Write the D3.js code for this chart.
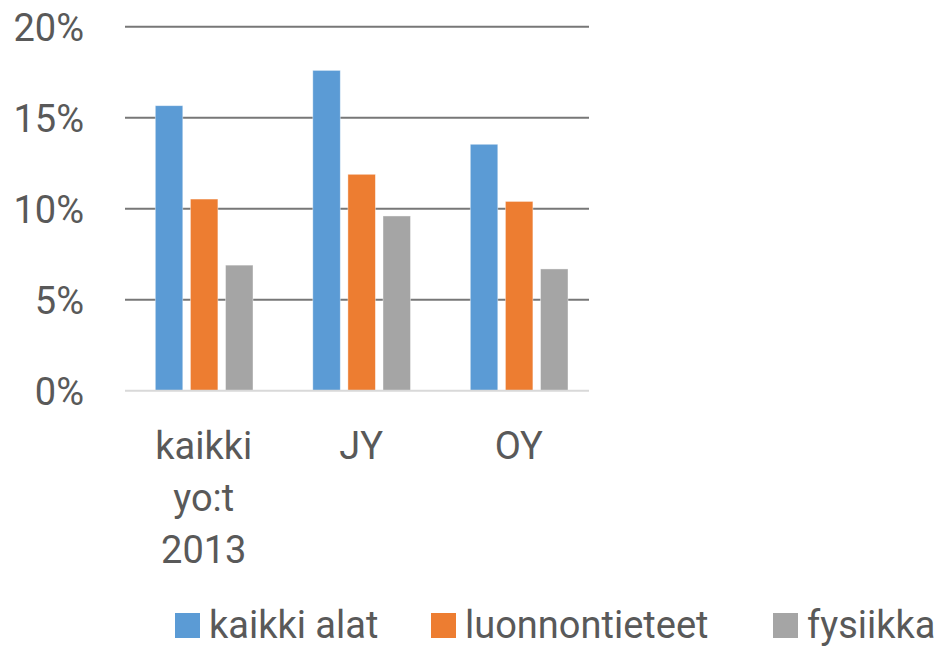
<!DOCTYPE html>
<html><head><meta charset="utf-8">
<script src="https://cdn.jsdelivr.net/npm/d3@7"></script>
<style>body{margin:0;background:#fff}svg{display:block}text{font-family:Roboto,"Open Sans",sans-serif;fill:#595959}</style>
</head><body><svg id="c" width="937" height="647"></svg>
<script>
const categories = [["kaikki","yo:t","2013"],["JY"],["OY"]];
const categoryKeys = ["kaikki yo:t 2013","JY","OY"];
const seriesNames = ["kaikki alat","luonnontieteet","fysiikka"];
const seriesColors = ["#5B9BD5","#ED7D31","#A5A5A5"];
const kaikkiAlat = [0.1566, 0.176, 0.1354];
const luonnontieteet = [0.1053, 0.1189, 0.104];
const fysiikka = [0.069, 0.096, 0.0669];
const yTicks = [0, 0.05, 0.10, 0.15, 0.20];

(function(){
const values = [kaikkiAlat, luonnontieteet, fysiikka];
const svg = d3.select("#c");
const pl = 125, pr = 589, pt = 26.7, pb = 390.7;

const y = d3.scaleLinear().domain([0,0.20]).range([pb, pt]);
const x0 = d3.scaleBand().domain(categoryKeys).range([pl, pl + 472.5]).paddingInner(0).paddingOuter(0);
const x1 = d3.scaleBand().domain(seriesNames).range([30.3, 30.3+97.7]).paddingInner(0.217).paddingOuter(0);

svg.append("g").selectAll("line").data(yTicks.filter(d=>d>0)).join("line")
  .attr("x1", pl).attr("x2", pr)
  .attr("y1", d=>y(d)).attr("y2", d=>y(d))
  .attr("stroke", "#777").attr("stroke-width", 2);

svg.append("g").selectAll("text").data(yTicks).join("text")
  .attr("x", 84).attr("y", d=>y(d)+14)
  .attr("text-anchor","end").attr("font-size", 38)
  .text(d=>d3.format(".0%")(d));

const gs = svg.append("g").selectAll("g").data(categoryKeys).join("g")
  .attr("transform", d=>`translate(${x0(d)},0)`);
gs.selectAll("rect").data((d,i)=>seriesNames.map((s,j)=>({s, j, v: values[j][i]}))).join("rect")
  .attr("x", d=>x1(d.s)).attr("width", x1.bandwidth())
  .attr("y", d=>y(d.v)).attr("height", d=>y(0)-y(d.v))
  .attr("fill", d=>seriesColors[d.j])
  .attr("stroke", "#fff").attr("stroke-opacity",0.5).attr("stroke-width", 0.8);

svg.append("line").attr("x1", pl).attr("x2", pr)
  .attr("y1", y(0)).attr("y2", y(0))
  .attr("stroke", "#d9d9d9").attr("stroke-width", 2);

svg.append("g").selectAll("text").data(categoryKeys).join("text")
  .attr("text-anchor","middle").attr("font-size", 38)
  .attr("transform", d=>`translate(${x0(d)+x0.bandwidth()/2},0)`)
  .each(function(d,i){
    const t = d3.select(this);
    categories[i].forEach((line,k)=>{
      t.append("tspan").attr("x",0).attr("y", 459 + k*52).text(line);
    });
  });

const legendX = [175, 431, 773];
const lg = svg.append("g").selectAll("g").data(seriesNames).join("g")
  .attr("transform",(d,i)=>`translate(${legendX[i]},0)`);
lg.append("rect").attr("x",0).attr("y",613).attr("width",25).attr("height",25)
  .attr("fill",(d,i)=>seriesColors[i]);
lg.append("text").attr("x",34).attr("y",638).attr("font-size",38).text(d=>d);
})();
</script></body></html>
